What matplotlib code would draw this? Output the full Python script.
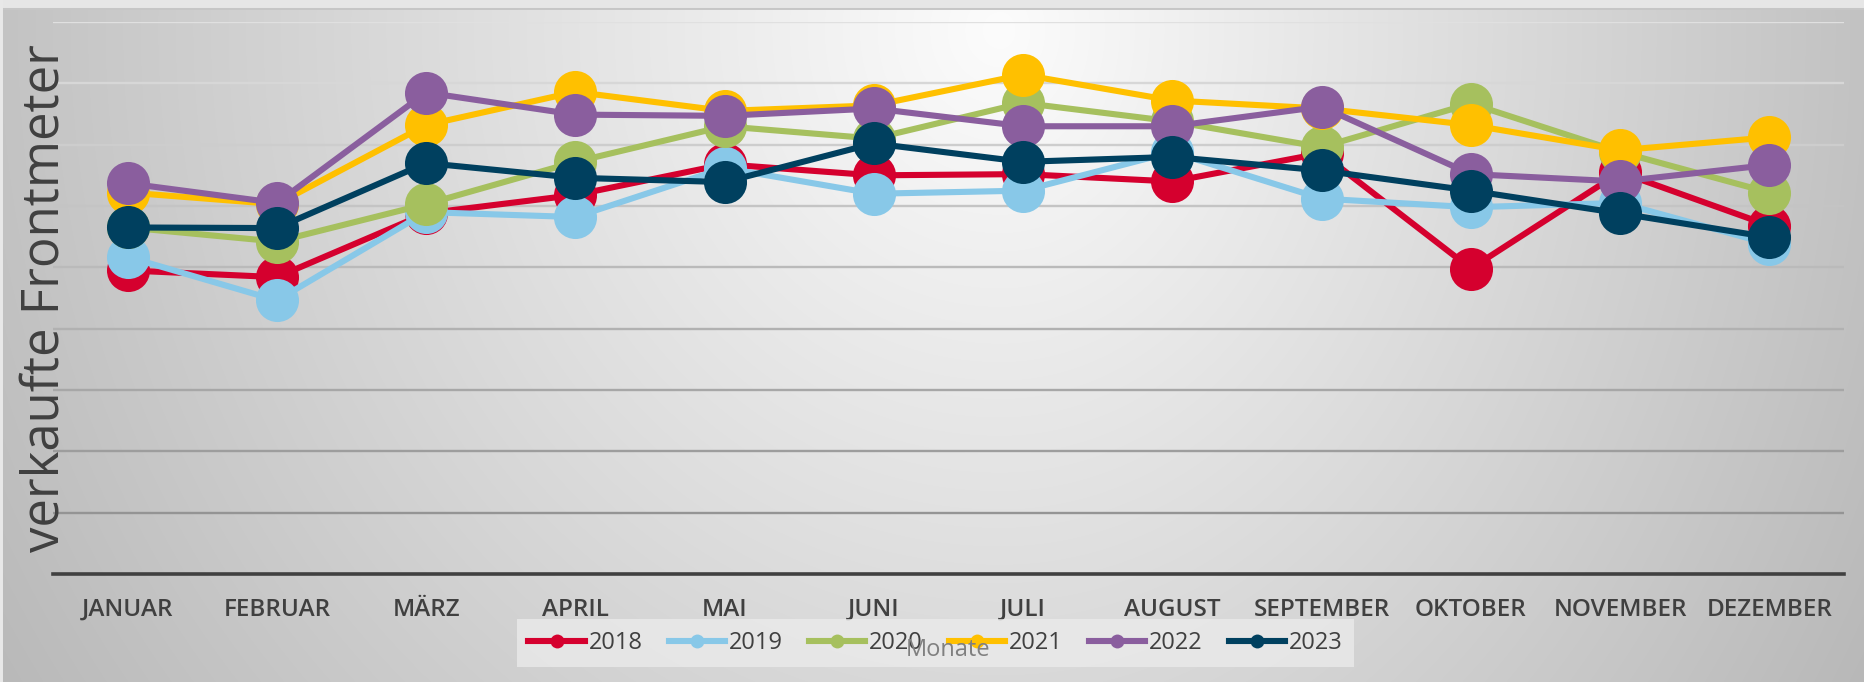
import numpy as np
import matplotlib
matplotlib.use("Agg")
import matplotlib.pyplot as plt
from matplotlib.lines import Line2D

months = ["JANUAR", "FEBRUAR", "MÄRZ", "APRIL", "MAI", "JUNI", "JULI",
          "AUGUST", "SEPTEMBER", "OKTOBER", "NOVEMBER", "DEZEMBER"]
years = ["2018", "2019", "2020", "2021", "2022", "2023"]
s2018 = [4.95, 4.84, 5.88, 6.18, 6.68, 6.50, 6.52, 6.40, 6.86, 4.98, 6.55, 5.68]
s2019 = [5.17, 4.46, 5.90, 5.82, 6.62, 6.20, 6.25, 6.88, 6.12, 5.98, 6.05, 5.38]
s2020 = [5.65, 5.42, 6.03, 6.72, 7.30, 7.10, 7.68, 7.38, 6.96, 7.67, 6.88, 6.22]
s2021 = [6.22, 6.03, 7.32, 7.86, 7.55, 7.64, 8.14, 7.72, 7.59, 7.32, 6.91, 7.12]
s2022 = [6.37, 6.05, 7.85, 7.49, 7.47, 7.59, 7.30, 7.30, 7.62, 6.52, 6.40, 6.67]
s2023 = [5.65, 5.64, 6.70, 6.46, 6.39, 7.02, 6.72, 6.80, 6.58, 6.25, 5.88, 5.49]
series = [s2018, s2019, s2020, s2021, s2022, s2023]
colors = ["#d5002e", "#88c8e8", "#a6c05e", "#ffc000", "#8a5e9e", "#00405f"]

plt.rcParams['font.family'] = ['Open Sans', 'DejaVu Sans']

W, H = 1865, 682
fig = plt.figure(figsize=(W / 100, H / 100), dpi=100)

# background gradient
bg = fig.add_axes([0, 0, 1, 1], zorder=-10)
yy, xx = np.mgrid[0:H, 0:W].astype(float)
cx, cy = 1000.0, 30.0
rx = np.where(xx < cx, 1000.0, 850.0)
d = np.sqrt(((xx - cx) / rx) ** 2 + ((yy - cy) / 1050.0) ** 2)
val = np.clip(252 - 57 * d, 170, 255) / 255.0
img = np.dstack([val, val, val])
img[:8, :, :] = 0.902
img[8:10, :, :] = 0.78
img[:, :3, :] = 0.91
bg.imshow(img, aspect='auto', extent=[0, W, H, 0], interpolation='bilinear')
bg.set_xlim(0, W)
bg.set_ylim(H, 0)
bg.axis('off')

left, right = 53 / W, 1844 / W
bottom, top = 1 - 574 / H, 1 - 22 / H
ax = fig.add_axes([left, bottom, right - left, top - bottom])
ax.patch.set_alpha(0)
ax.set_xlim(-0.5, 11.5)
ax.set_ylim(0, 9)

# gridlines with gradient tone
for i in range(1, 10):
    t = (i - 1) / 8
    g = (0.58 + 0.30 * t)
    ax.axhline(i, color=(g, g, g), lw=1.7, zorder=1)

x = np.arange(len(months))
for s, c in zip(series, colors):
    ax.plot(x, s, color=c, lw=4.4, marker='o', markersize=31,
            markeredgewidth=0, solid_capstyle='round', zorder=3)

for sp in ['top', 'right', 'left']:
    ax.spines[sp].set_visible(False)
ax.spines['bottom'].set_color('#404040')
ax.spines['bottom'].set_linewidth(2.6)
ax.spines['bottom'].set_zorder(4)
ax.set_yticks([])
ax.set_xticks(x, labels=months)
ax.tick_params(axis='x', length=0, pad=17, labelsize=17.5, labelcolor='#404040')
for lb in ax.get_xticklabels():
    lb.set_fontweight('semibold')

fig.text(45 / W, 1 - 298 / H, "verkaufte Frontmeter", rotation=90,
         ha='center', va='center', fontsize=36.6, color='#404040')

handles = [Line2D([0], [0], color=c, lw=4.4, marker='o', markersize=10,
                  markeredgewidth=0) for c in colors]
leg = fig.legend(handles, years, loc='center', ncol=6,
                 bbox_to_anchor=((508 + 1363) / 2 / W, 1 - 643 / H),
                 frameon=True, fontsize=17, handlelength=2.4,
                 handletextpad=0.15, columnspacing=1.1, borderpad=0.5,
                 borderaxespad=0, fancybox=False)
leg.get_frame().set_facecolor('#ececec')
leg.get_frame().set_alpha(0.75)
leg.get_frame().set_linewidth(0)
for t in leg.get_texts():
    t.set_color('#404040')

fig.text(948 / W, 1 - 650 / H, "Monate", ha='center', va='center',
         fontsize=17, color='#808080', zorder=20)

fig.savefig("out.png", dpi=100)
